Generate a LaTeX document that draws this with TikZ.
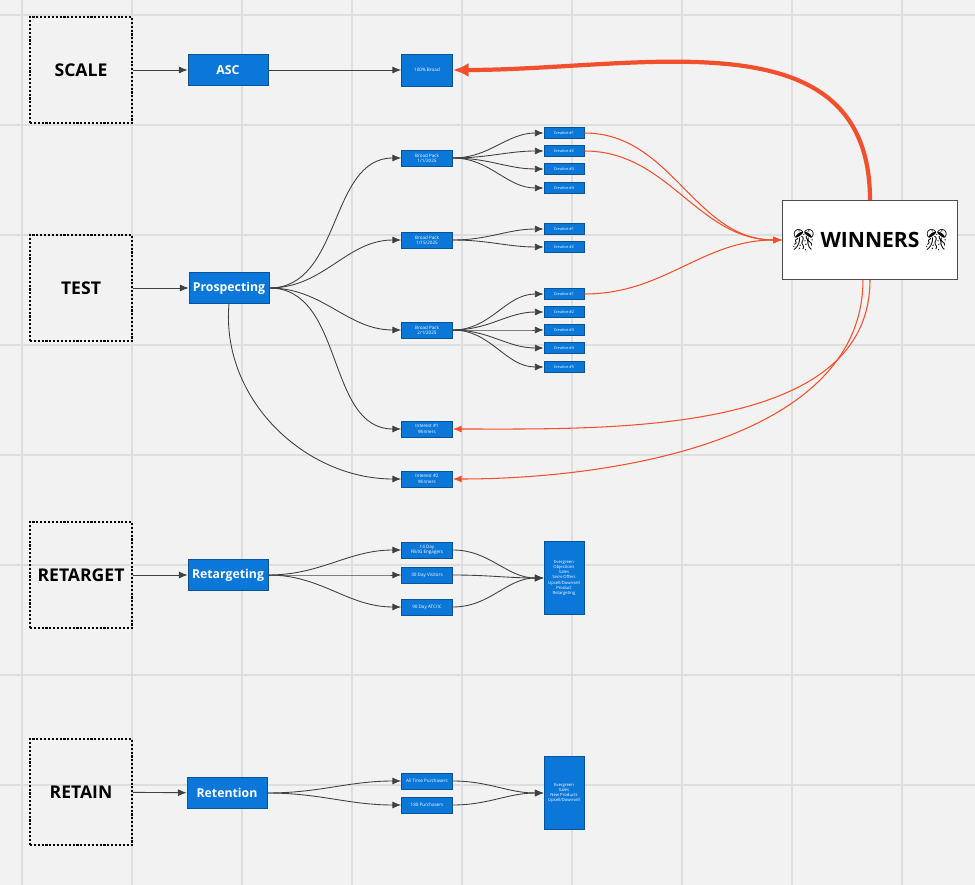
\documentclass[tikz,border=0pt]{standalone}
\usepackage{fontspec}
\setmainfont{Open Sans}
\newfontfamily\emo{Noto Emoji}
\usetikzlibrary{arrows.meta}
\definecolor{bl}{HTML}{0B78D9}
\definecolor{rd}{HTML}{F2502C}
\tikzset{
 stage/.style={draw,densely dotted,line width=1.2pt,minimum width=2.04cm,minimum height=2.12cm,inner sep=0pt,font=\bfseries},
 big/.style={fill=bl,draw=bl!70!black,text=white,minimum width=1.6cm,minimum height=0.62cm,inner sep=0pt,font=\bfseries\scriptsize},
 mid/.style={fill=bl,draw=bl!70!black,text=white,minimum width=1.02cm,minimum height=0.32cm,inner sep=0pt,font=\fontsize{2.6}{3}\selectfont,align=center},
 cre/.style={fill=bl,draw=bl!70!black,text=white,minimum width=0.8cm,minimum height=0.22cm,inner sep=0pt,font=\fontsize{2.2}{2.6}\selectfont},
 tall/.style={fill=bl,draw=bl!70!black,text=white,minimum width=0.8cm,inner sep=0pt,font=\fontsize{2.4}{3}\selectfont,align=center},
 ar/.style={-{Latex[length=5pt,width=4pt]},black!75,line width=0.5pt},
 rr/.style={-{Latex[length=5pt,width=4pt]},rd,line width=0.6pt},
}
\begin{document}
\begin{tikzpicture}[x=0.02cm,y=-0.02cm]
\fill[black!5] (0,0) rectangle (975,885);
\useasboundingbox (0,0) rectangle (975,885);
\foreach \x in {22,132,242,352,462,572,682,792,902} \draw[black!13,line width=0.6pt] (\x,0)--(\x,885);
\foreach \y in {15,125,235,345,455,565,675,785} \draw[black!13,line width=0.6pt] (0,\y)--(975,\y);
\node[stage] (scale) at (81,70) {SCALE};
\node[stage] (test) at (81,288) {TEST};
\node[stage] (retarget) at (81,575) {RETARGET};
\node[stage] (retain) at (81,792) {RETAIN};
\node[big] (asc) at (228,70) {ASC};
\node[big] (pros) at (229,288) {Prospecting};
\node[big] (ret) at (228,575) {Retargeting};
\node[big] (rtn) at (227,793) {Retention};
\draw[ar] (scale)--(asc); \draw[ar] (test)--(pros); \draw[ar] (retarget)--(ret); \draw[ar] (retain)--(rtn);
\node[mid,minimum height=0.64cm] (b100) at (427,70) {100\% Broad};
\draw[ar] (asc)--(b100);
\node[mid] (bp1) at (427,158) {Broad Pack\\1/1/2025};
\node[mid] (bp2) at (427,240) {Broad Pack\\1/15/2025};
\node[mid] (bp3) at (427,330) {Broad Pack\\2/1/2025};
\node[mid] (i1) at (427,429) {Interest \#1\\Winners};
\node[mid] (i2) at (427,479) {Interest \#2\\Winners};
\foreach \n in {bp1,bp2,bp3,i1} \draw[ar] (pros.east) to[out=0,in=180] (\n.west);
\draw[ar] (pros.south) to[out=-95,in=180] (i2.west);
\foreach \i/\y in {1/133,2/151,3/169,4/188} {\node[cre] (a\i) at (564,\y) {Creative \#\i}; \draw[ar] (bp1.east) to[out=0,in=180] (a\i.west);}
\foreach \i/\y in {1/229,2/247} {\node[cre] (b\i) at (564,\y) {Creative \#\i}; \draw[ar] (bp2.east) to[out=0,in=180] (b\i.west);}
\foreach \i/\y in {1/294,2/312,3/330,4/348,5/367} {\node[cre] (c\i) at (564,\y) {Creative \#\i}; \draw[ar] (bp3.east) to[out=0,in=180] (c\i.west);}
\node[draw=black!70,fill=white,minimum width=3.5cm,minimum height=1.58cm,inner sep=0pt,font=\bfseries\large] (win) at (870,240) {{\emo 🎊}\,WINNERS\,{\emo 🎊}};
\foreach \n in {a1,a2,c1} \draw[rr] (\n.east) to[out=0,in=180] (win.west);
\draw[-{Latex[length=9pt,width=8pt]},rd,line width=2.4pt] (win.north) to[out=90,in=0,looseness=1.1] (b100.east);
\draw[rr] (win.south) to[out=-90,in=0,looseness=0.9] (i1.east);
\draw[rr] ([xshift=-4pt]win.south) to[out=-90,in=0,looseness=0.9] (i2.east);
\node[mid] (r1) at (427,550) {14 Day\\FB/IG Engagers};
\node[mid] (r2) at (427,575) {30 Day Visitors};
\node[mid] (r3) at (427,607) {90 Day ATC/IC};
\node[tall,minimum height=1.46cm] (rb) at (564,578) {Evergreen\\Objections\\Sales\\Semi-Offers\\Upsell/Downsell\\Product\\Retargeting};
\foreach \n in {r1,r2,r3} {\draw[ar] (ret.east) to[out=0,in=180] (\n.west); \draw[ar] (\n.east) to[out=0,in=180] (rb.west);}
\node[mid] (p1) at (427,781) {All Time Purchasers};
\node[mid] (p2) at (427,805) {180 Purchasers};
\node[tall,minimum height=1.46cm] (pb) at (564,793) {Evergreen\\Sales\\New Products\\Upsell/Downsell};
\foreach \n in {p1,p2} {\draw[ar] (rtn.east) to[out=0,in=180] (\n.west); \draw[ar] (\n.east) to[out=0,in=180] (pb.west);}
\end{tikzpicture}
\end{document}
